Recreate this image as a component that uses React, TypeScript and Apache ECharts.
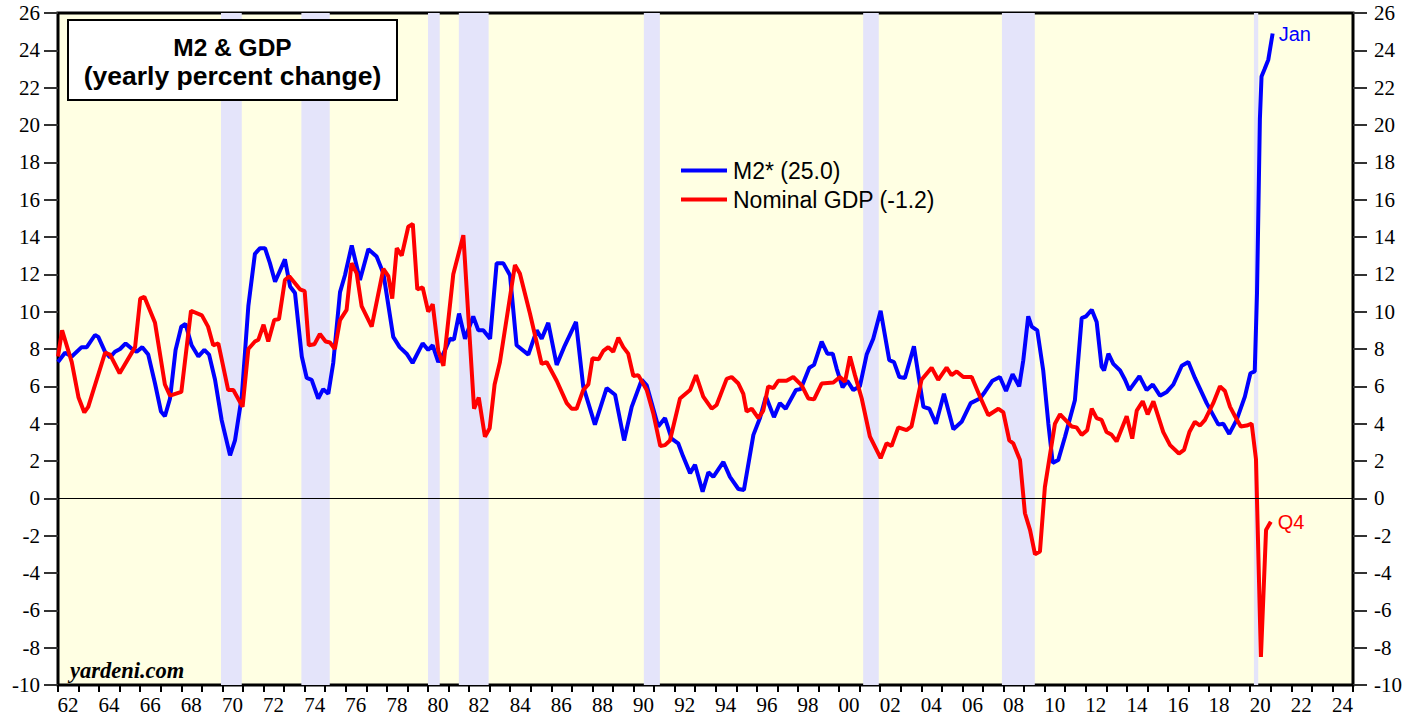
import React, { useEffect, useRef } from "react";
import * as echarts from "echarts";

// ---- Data ----
const m2Years = [
  1962.0, 1962.34, 1962.67, 1963.15, 1963.4, 1963.8, 1963.96, 1964.29, 1964.53, 1964.77,
  1965.02, 1965.29, 1965.55, 1965.83, 1966.1, 1966.39, 1966.72, 1967.01, 1967.2, 1967.45,
  1967.72, 1968.0, 1968.2, 1968.5, 1968.83, 1969.12, 1969.35, 1969.64, 1969.96, 1970.37,
  1970.61, 1970.94, 1971.26, 1971.58, 1971.83, 1972.07, 1972.31, 1972.56, 1973.04, 1973.29,
  1973.53, 1973.86, 1974.1, 1974.34, 1974.66, 1974.9, 1975.15, 1975.39, 1975.72, 1975.96,
  1976.29, 1976.69, 1977.1, 1977.5, 1977.83, 1978.31, 1978.62, 1978.96, 1979.25, 1979.74,
  1980.01, 1980.23, 1980.5, 1980.75, 1981.07, 1981.26, 1981.51, 1981.8, 1982.2, 1982.45,
  1982.69, 1983.02, 1983.34, 1983.66, 1983.99, 1984.31, 1984.88, 1985.29, 1985.53, 1985.85,
  1986.26, 1986.66, 1987.2, 1987.55, 1988.12, 1988.69, 1989.1, 1989.54, 1989.91, 1990.4,
  1990.64, 1991.2, 1991.53, 1991.85, 1992.17, 1992.41, 1992.75, 1992.99, 1993.36, 1993.64,
  1993.88, 1994.37, 1994.69, 1995.1, 1995.37, 1995.83, 1996.15, 1996.44, 1996.83, 1997.12,
  1997.4, 1997.9, 1998.13, 1998.55, 1998.78, 1999.15, 1999.43, 1999.69, 1999.88, 2000.17,
  2000.4, 2000.69, 2001.01, 2001.34, 2001.66, 2002.02, 2002.44, 2002.67, 2002.93, 2003.2,
  2003.64, 2004.1, 2004.39, 2004.71, 2005.1, 2005.56, 2005.96, 2006.4, 2006.85, 2007.09,
  2007.46, 2007.82, 2008.12, 2008.44, 2008.76, 2008.96, 2009.2, 2009.37, 2009.64, 2009.93,
  2010.18, 2010.39, 2010.66, 2010.99, 2011.47, 2011.8, 2012.01, 2012.29, 2012.53, 2012.77,
  2012.89, 2013.1, 2013.34, 2013.67, 2013.91, 2014.12, 2014.61, 2014.96, 2015.26, 2015.61,
  2015.94, 2016.26, 2016.67, 2016.99, 2017.31, 2017.88, 2018.45, 2018.69, 2018.98, 2019.34,
  2019.74, 2020.01, 2020.22, 2020.33, 2020.47, 2020.55, 2020.7, 2020.88, 2021.09,
];
const m2Values = [
  7.3, 7.8, 7.6, 8.1, 8.1, 8.75, 8.65, 7.85, 7.55, 7.85,
  8.0, 8.3, 8.05, 7.85, 8.1, 7.7, 6.15, 4.65, 4.4, 5.35,
  7.95, 9.2, 9.35, 8.2, 7.6, 7.95, 7.7, 6.35, 4.2, 2.3,
  3.1, 5.45, 10.3, 13.1, 13.4, 13.4, 12.6, 11.6, 12.8, 11.35,
  11.0, 7.6, 6.45, 6.35, 5.35, 5.85, 5.6, 7.25, 11.05, 11.95,
  13.55, 11.7, 13.35, 12.95, 12.05, 8.65, 8.1, 7.75, 7.25, 8.3,
  7.95, 8.2, 7.3, 7.75, 8.55, 8.5, 9.9, 8.55, 9.75, 9.0,
  9.0, 8.55, 12.6, 12.6, 11.95, 8.2, 7.7, 9.0, 8.55, 9.4,
  7.15, 8.2, 9.45, 6.0, 3.95, 5.9, 5.55, 3.1, 4.9, 6.35,
  6.05, 3.85, 4.3, 3.2, 2.95, 2.25, 1.35, 1.8, 0.35, 1.4,
  1.15, 1.95, 1.15, 0.5, 0.45, 3.4, 4.3, 5.45, 4.35, 5.1,
  4.8, 5.8, 5.85, 7.0, 7.15, 8.4, 7.75, 7.75, 6.95, 5.95,
  6.3, 5.8, 6.0, 7.7, 8.55, 10.05, 7.4, 7.3, 6.5, 6.45,
  8.15, 4.9, 4.8, 4.0, 5.6, 3.7, 4.1, 5.1, 5.35, 5.7,
  6.3, 6.5, 5.75, 6.65, 6.0, 7.4, 9.75, 9.2, 9.0, 6.85,
  4.0, 1.9, 2.05, 3.3, 5.25, 9.65, 9.75, 10.1, 9.45, 7.05,
  6.85, 7.75, 7.2, 6.85, 6.35, 5.8, 6.55, 5.8, 6.1, 5.5,
  5.7, 6.1, 7.1, 7.3, 6.45, 5.1, 3.95, 4.0, 3.45, 4.2,
  5.45, 6.7, 6.8, 11.0, 20.3, 22.6, 23.0, 23.5, 24.9,
];

const gdpYears = [
  1962.0, 1962.2, 1962.67, 1963.0, 1963.28, 1963.47, 1964.29, 1964.53, 1965.0, 1965.75,
  1966.0, 1966.2, 1966.72, 1967.2, 1967.45, 1968.0, 1968.47, 1969.0, 1969.3, 1969.55,
  1969.8, 1970.28, 1970.53, 1970.98, 1971.26, 1971.58, 1971.75, 1972.0, 1972.23, 1972.52,
  1972.75, 1973.04, 1973.25, 1973.77, 1974.0, 1974.2, 1974.47, 1974.74, 1975.02, 1975.23,
  1975.47, 1975.72, 1976.04, 1976.28, 1976.53, 1976.77, 1977.26, 1977.83, 1978.07, 1978.26,
  1978.48, 1978.72, 1979.04, 1979.26, 1979.48, 1979.74, 1980.01, 1980.23, 1980.5, 1980.75,
  1981.23, 1981.72, 1982.24, 1982.47, 1982.77, 1983.0, 1983.24, 1983.5, 1984.23, 1984.47,
  1984.96, 1985.53, 1985.77, 1986.26, 1986.75, 1986.99, 1987.23, 1987.55, 1987.8, 1988.0,
  1988.3, 1988.53, 1988.77, 1989.01, 1989.26, 1989.5, 1989.74, 1989.99, 1990.23, 1990.64,
  1990.96, 1991.3, 1991.53, 1991.77, 1992.26, 1992.75, 1993.04, 1993.39, 1993.8, 1994.04,
  1994.53, 1994.77, 1995.1, 1995.34, 1995.5, 1995.75, 1996.07, 1996.31, 1996.55, 1996.8,
  1997.04, 1997.44, 1997.77, 1998.18, 1998.5, 1998.78, 1999.15, 1999.72, 2000.04, 2000.29,
  2000.53, 2000.77, 2001.1, 2001.5, 2002.02, 2002.31, 2002.55, 2002.88, 2003.28, 2003.52,
  2004.01, 2004.5, 2004.82, 2005.23, 2005.47, 2005.72, 2006.04, 2006.45, 2006.85, 2007.26,
  2007.75, 2007.99, 2008.28, 2008.47, 2008.8, 2009.04, 2009.29, 2009.53, 2009.77, 2010.01,
  2010.5, 2010.75, 2011.31, 2011.55, 2011.8, 2012.07, 2012.29, 2012.53, 2012.77, 2013.01,
  2013.26, 2013.5, 2013.99, 2014.26, 2014.48, 2014.77, 2015.01, 2015.29, 2015.77, 2016.1,
  2016.53, 2016.78, 2017.04, 2017.31, 2017.56, 2017.8, 2018.2, 2018.53, 2018.77, 2019.02,
  2019.26, 2019.54, 2019.83, 2020.07, 2020.28, 2020.52, 2020.77, 2021.0,
];
const gdpValues = [
  7.6, 9.0, 7.3, 5.4, 4.6, 4.9, 7.8, 7.7, 6.7, 8.1,
  10.7, 10.8, 9.4, 6.1, 5.5, 5.7, 10.05, 9.8, 9.2, 8.2,
  8.3, 5.8, 5.8, 4.9, 8.0, 8.4, 8.5, 9.3, 8.4, 9.55,
  9.6, 11.7, 11.9, 11.2, 11.1, 8.2, 8.25, 8.8, 8.4, 8.35,
  8.0, 9.55, 10.1, 12.6, 12.05, 10.3, 9.2, 12.3, 11.9, 10.7,
  13.4, 13.0, 14.55, 14.7, 11.2, 11.3, 10.0, 10.4, 7.9, 7.1,
  12.0, 14.1, 4.8, 5.4, 3.3, 3.75, 6.1, 7.3, 12.5, 12.05,
  9.9, 7.2, 7.3, 6.3, 5.1, 4.8, 4.8, 5.8, 6.1, 7.5,
  7.45, 7.9, 8.1, 7.85, 8.6, 8.1, 7.75, 6.55, 6.6, 5.8,
  4.55, 2.8, 2.85, 3.1, 5.35, 5.8, 6.6, 5.45, 4.8, 5.0,
  6.4, 6.5, 6.15, 5.6, 4.65, 4.8, 4.3, 4.7, 6.0, 5.9,
  6.3, 6.3, 6.5, 6.05, 5.35, 5.3, 6.15, 6.2, 6.5, 6.25,
  7.6, 6.6, 5.35, 3.3, 2.15, 2.95, 2.8, 3.8, 3.65, 3.85,
  6.35, 7.0, 6.35, 7.0, 6.6, 6.8, 6.5, 6.5, 5.45, 4.45,
  4.8, 4.6, 3.1, 2.95, 2.05, -0.8, -1.7, -3.0, -2.85, 0.6,
  4.0, 4.5, 3.85, 3.8, 3.4, 3.65, 4.8, 4.3, 4.2, 3.55,
  3.4, 3.05, 4.4, 3.2, 4.7, 5.2, 4.5, 5.2, 3.55, 2.85,
  2.4, 2.6, 3.55, 4.1, 3.9, 4.2, 5.1, 6.0, 5.75, 4.9,
  4.4, 3.85, 3.9, 4.0, 2.1, -8.5, -1.7, -1.25,
];

const recessionStart = [1969.93, 1973.84, 1980.0, 1981.5, 1990.5, 2001.17, 2007.92, 2020.18];
const recessionEnd = [1970.94, 1975.22, 1980.57, 1982.95, 1991.28, 2001.93, 2009.52, 2020.39];

const seriesNames = ["M2* (25.0)", "Nominal GDP (-1.2)"];
const endLabels = ["Jan", "Q4"];
const titleLines = ["M2 & GDP", "(yearly percent change)"];
const sourceText = "yardeni.com";

const X_MIN = 1962;
const X_MAX = 2025;
const Y_MIN = -10;
const Y_MAX = 26;
const Y_STEP = 2;

const pair = (xs: number[], ys: number[]) => xs.map((x, i) => [x, ys[i]]);

export default function App() {
  const ref = useRef<HTMLDivElement>(null);

  useEffect(() => {
    if (!ref.current) return;
    const chart = echarts.init(ref.current, undefined, { renderer: "svg" });

    const yAxisBase = (position: "left" | "right", margin: number) => ({
      type: "value",
      position,
      min: Y_MIN,
      max: Y_MAX,
      interval: Y_STEP,
      axisLine: { show: false },
      axisTick: { show: true, inside: false, length: 14, lineStyle: { color: "#333", width: 2 } },
      splitLine: { show: false },
      axisLabel: {
        fontFamily: "Liberation Serif",
        fontSize: 21,
        color: "#000",
        margin,
      },
    });

    const option: any = {
      animation: false,
      backgroundColor: "#ffffff",
      grid: {
        left: 58,
        right: 68,
        top: 13,
        bottom: 34,
        show: true,
        backgroundColor: "#FFFFE3",
        borderColor: "#000",
        borderWidth: 3,
        z: 0,
      },
      legend: {
        data: seriesNames,
        orient: "vertical",
        left: 676,
        top: 153,
        icon: "rect",
        itemWidth: 46,
        itemHeight: 4,
        itemGap: 4,
        selectedMode: false,
        textStyle: {
          fontFamily: "Liberation Sans",
          fontSize: 23,
          color: "#000",
          lineHeight: 25,
          padding: [0, 0, 0, 1],
        },
      },
      xAxis: {
        type: "value",
        min: X_MIN,
        max: X_MAX,
        interval: 1,
        axisLine: { show: false, onZero: false },
        axisTick: { show: true, inside: false, length: 7, lineStyle: { color: "#000", width: 2 } },
        splitLine: { show: false },
        axisLabel: {
          fontFamily: "Liberation Serif",
          fontSize: 21,
          color: "#000",
          margin: 9,
          formatter: (v: number) =>
            v % 2 === 0 && v < X_MAX ? `{a|${String(v % 100).padStart(2, "0")}}` : "",
          rich: {
            a: {
              fontFamily: "Liberation Serif",
              fontSize: 21,
              color: "#000",
              padding: [0, 0, 0, 20],
            },
          },
        },
      },
      yAxis: [yAxisBase("left", 18), yAxisBase("right", 21)],
      series: [
        {
          type: "line",
          data: [],
          z: 1,
          silent: true,
          markArea: {
            silent: true,
            itemStyle: { color: "#E4E4FA" },
            data: recessionStart.map((s, i) => [{ xAxis: s }, { xAxis: recessionEnd[i] }]),
          },
          markLine: {
            silent: true,
            symbol: "none",
            label: { show: false },
            lineStyle: { color: "#000", width: 1, type: "solid" },
            data: [{ yAxis: 0 }],
          },
        },
        {
          name: seriesNames[0],
          type: "line",
          data: pair(m2Years, m2Values),
          symbol: "none",
          showSymbol: false,
          z: 3,
          lineStyle: { color: "#0000FF", width: 4 },
          itemStyle: { color: "#0000FF" },
          endLabel: {
            show: true,
            formatter: endLabels[0],
            color: "#0000FF",
            fontFamily: "Liberation Sans",
            fontSize: 20,
            distance: 6,
          },
        },
        {
          name: seriesNames[1],
          type: "line",
          data: pair(gdpYears, gdpValues),
          symbol: "none",
          showSymbol: false,
          z: 4,
          lineStyle: { color: "#FF0000", width: 4 },
          itemStyle: { color: "#FF0000" },
          endLabel: {
            show: true,
            formatter: endLabels[1],
            color: "#FF0000",
            fontFamily: "Liberation Sans",
            fontSize: 20,
            distance: 7,
          },
        },
      ],
      graphic: [
        {
          type: "rect",
          z: 100,
          shape: { x: 68, y: 20, width: 329, height: 80 },
          style: { fill: "#ffffff", stroke: "#000", lineWidth: 2 },
        },
        {
          type: "text",
          z: 101,
          x: 232.5,
          y: 47,
          style: {
            text: titleLines[0],
            fill: "#000",
            font: 'bold 24.5px "Liberation Sans"',
            align: "center",
            verticalAlign: "middle",
          },
        },
        {
          type: "text",
          z: 101,
          x: 232.5,
          y: 76,
          style: {
            text: titleLines[1],
            fill: "#000",
            font: 'bold 26.5px "Liberation Sans"',
            align: "center",
            verticalAlign: "middle",
          },
        },
        {
          type: "text",
          z: 101,
          x: 70,
          y: 670,
          style: {
            text: sourceText,
            fill: "#000",
            font: 'italic bold 22.5px "Liberation Serif"',
            align: "left",
            verticalAlign: "middle",
          },
        },
      ],
    };

    chart.setOption(option);
    return () => chart.dispose();
  }, []);

  return (
    <div
      ref={ref}
      style={{ position: "fixed", left: 0, top: 0, width: 1421, height: 719 }}
    />
  );
}
